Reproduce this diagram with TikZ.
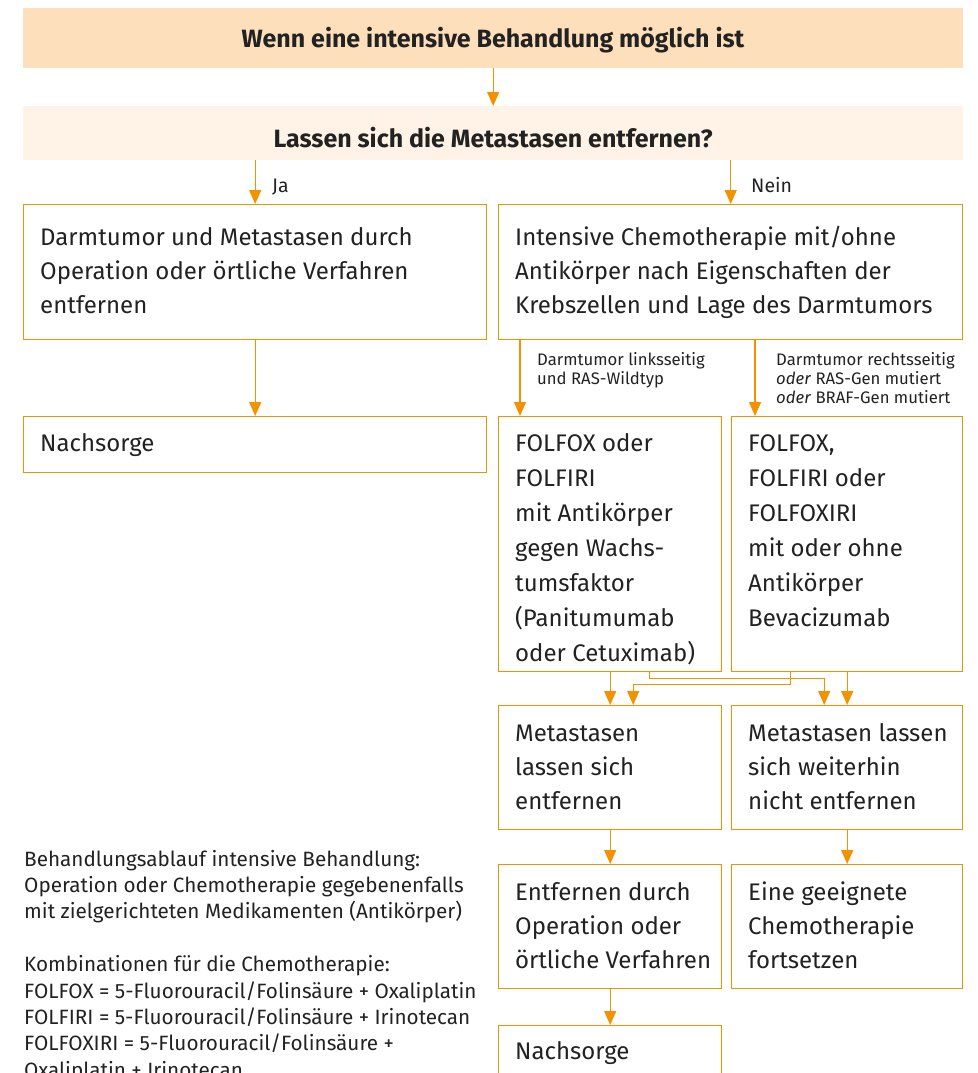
\documentclass[tikz,border=0pt]{standalone}
\usepackage{fontspec}
\setmainfont{Fira Sans}
\usetikzlibrary{arrows.meta}
\definecolor{org}{HTML}{F39200}
\definecolor{hdrA}{HTML}{FDDFBB}
\definecolor{hdrB}{HTML}{FEF3E6}
\definecolor{txt}{HTML}{222222}
\begin{document}
\begin{tikzpicture}[x=1pt,y=-1pt,
  box/.style={draw=org, line width=1.4pt, anchor=north west, inner sep=0pt, minimum width=#1},
  box/.default=223pt,
  body/.style={anchor=north west, inner sep=0pt, align=left, text=txt, font=\fontsize{24}{34}\selectfont},
  tall/.style={font=\fontsize{24}{35}\selectfont},
  hdrbox/.style={anchor=north west, inner sep=0pt, minimum width=940pt},
  hdrtext/.style={anchor=base, inner sep=0pt, text=txt, font=\bfseries\fontsize{25}{30}\selectfont},
  conn/.style={draw=org, line width=1.4pt, -{Triangle[length=14pt,width=12pt]}},
  small/.style={anchor=north west, inner sep=0pt, align=left, text=txt, font=\fontsize{16.7}{19}\selectfont},
  lbl/.style={anchor=base west, inner sep=0pt, text=txt, font=\fontsize{19.5}{23}\selectfont},
  note/.style={anchor=north west, inner sep=0pt, align=left, text=txt, font=\fontsize{20.7}{26.4}\selectfont}]
\clip (0,0) rectangle (977,1073);
\fill[white] (0,0) rectangle (977,1073);

% header bars
\node[hdrbox, fill=hdrA, minimum height=60pt] (top) at (23,8) {};
\node[hdrtext] (toptext) at (493,48) {Wenn eine intensive Behandlung möglich ist};
\node[hdrbox, fill=hdrB, minimum height=54pt] (q) at (23,106) {};
\node[hdrtext] (qtext) at (493,147) {Lassen sich die Metastasen entfernen?};

% boxes
\node[box=463pt, minimum height=135pt] (a) at (23,204) {};
\node[box=464pt, minimum height=135pt] (b) at (498,204) {};
\node[box=463pt, minimum height=56pt] (n1) at (23,416) {};
\node[box=223pt, minimum height=255pt] (c) at (498,416) {};
\node[box=231pt, minimum height=255pt] (d) at (731,416) {};
\node[box=223pt, minimum height=124pt] (e) at (498,705) {};
\node[box=231pt, minimum height=124pt] (f) at (731,705) {};
\node[box=223pt, minimum height=124pt] (g) at (498,864) {};
\node[box=231pt, minimum height=124pt] (h) at (731,864) {};
\node[box=223pt, minimum height=60pt] (n2) at (498,1025) {};

% box texts
\node[body] (at) at (40,221.2) {\strut Darmtumor und Metastasen durch\\Operation oder örtliche Verfahren\\entfernen};
\node[body] (bt) at (515,221.2) {\strut Intensive Chemotherapie mit/ohne\\Antikörper nach Eigenschaften der\\Krebszellen und Lage des Darmtumors};
\node[body] (n1t) at (40,427.2) {\strut Nachsorge};
\node[body, tall] (ct) at (515,426.5) {\strut FOLFOX oder\\FOLFIRI\\mit Antikörper\\gegen Wachs-\\tumsfaktor\\(Panitumumab\\oder Cetuximab)};
\node[body, tall] (dt) at (748,426.5) {\strut FOLFOX,\\FOLFIRI oder\\FOLFOXIRI\\mit oder ohne\\Antikörper\\Bevacizumab};
\node[body] (et) at (515,717.2) {\strut Metastasen\\lassen sich\\entfernen};
\node[body] (ft) at (748,717.2) {\strut Metastasen lassen\\sich weiterhin\\nicht entfernen};
\node[body] (gt) at (515,876.2) {\strut Entfernen durch\\Operation oder\\örtliche Verfahren};
\node[body] (ht) at (748,876.2) {\strut Eine geeignete\\Chemotherapie\\fortsetzen};
\node[body] (n2t) at (515,1035.2) {\strut Nachsorge};

\node[note] (notes) at (24,847.5) {\strut Behandlungsablauf intensive Behandlung:\\Operation oder Chemotherapie gegebenenfalls\\mit zielgerichteten Medikamenten (Antikörper)\\[26.4pt]Kombinationen für die Chemotherapie:\\FOLFOX = 5-Fluorouracil/Folinsäure + Oxaliplatin\\FOLFIRI = 5-Fluorouracil/Folinsäure + Irinotecan\\FOLFOXIRI = 5-Fluorouracil/Folinsäure +\\Oxaliplatin + Irinotecan};

% connectors
\draw[conn] (top.south) -- (q.north);
\draw[conn] (q.south -| a.north) -- (a.north);
\draw[conn] (q.south -| b.north) -- (b.north);
\node[lbl] (ja) at (272,192) {Ja};
\node[lbl] (nein) at (751,192) {Nein};

\draw[conn] (a.south) -- (n1.north);
\coordinate (l1) at ([xshift=22pt]c.north west);
\coordinate (l2) at ([xshift=24pt]d.north west);
\draw[conn] (b.south -| l1) -- (l1);
\draw[conn] (b.south -| l2) -- (l2);
\node[small] (lab1) at (537,351.7) {\strut Darmtumor linksseitig\\und RAS-Wildtyp};
\node[small] (lab2) at (776,351.7) {\strut Darmtumor rechtsseitig\\\textit{oder} RAS-Gen mutiert\\\textit{oder} BRAF-Gen mutiert};

\draw[conn] (c.south) -- (e.north);
\draw[conn] ([xshift=39pt]c.south) -- ++(0,6) -| ([xshift=-23pt]f.north);
\draw[conn] ([xshift=-57pt]d.south) -- ++(0,12) -| ([xshift=23pt]e.north);
\draw[conn] (d.south) -- (f.north);
\draw[conn] (e.south) -- (g.north);
\draw[conn] (f.south) -- (h.north);
\draw[conn] (g.south) -- (n2.north);
\end{tikzpicture}
\end{document}
